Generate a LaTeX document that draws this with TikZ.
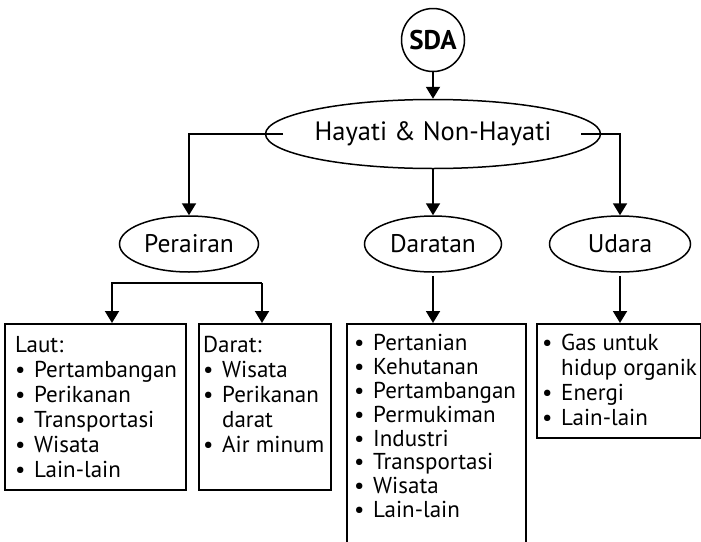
\documentclass[tikz,border=0pt]{standalone}
\usepackage{fontspec}
\setmainfont{PT Sans}
\usetikzlibrary{shapes.geometric,arrows.meta}
\newcommand{\bt}{\makebox[19pt][l]{\textbullet}}
\newcommand{\bind}{\makebox[19pt][l]{}}
\begin{document}
\begin{tikzpicture}[x=1pt,y=-1pt,
  arr/.style={-{Triangle[width=14pt,length=12pt]}, line width=1.9pt},
  ell/.style={draw, ellipse, line width=1.5pt, inner sep=0pt},
  lbl/.style={font=\fontsize{25.5}{30}\selectfont},
  boxn/.style={draw, rectangle, line width=1.6pt, anchor=north west, inner sep=0pt},
  txt/.style={anchor=north west, align=left, inner sep=0pt, font=\fontsize{23}{25}\selectfont}]
\useasboundingbox (0,0) rectangle (701,541);

% top nodes
\node[draw, circle, line width=1.5pt, minimum size=63pt, inner sep=0pt, font=\fontsize{27}{30}\selectfont\bfseries] (sda) at (433,40) {SDA};
\node[ell, minimum width=282pt, minimum height=69pt, font=\fontsize{26.5}{30}\selectfont] (hay) at (433,134) {Hayati \& Non-Hayati};

% second level
\node[ell, lbl, minimum width=139pt, minimum height=56pt] (per) at (189,244) {Perairan};
\node[ell, lbl, minimum width=137pt, minimum height=56pt] (dar) at (433,244) {Daratan};
\node[ell, lbl, minimum width=141pt, minimum height=56pt] (uda) at (620,244) {Udara};

% boxes
\node[boxn, minimum width=181pt, minimum height=166pt] (laut) at (4,323) {};
\node[boxn, minimum width=132pt, minimum height=166pt] (darat) at (198,323) {};
\node[boxn, minimum width=179pt, minimum height=225pt] (dbox) at (346,323) {};
\node[boxn, minimum width=164pt, minimum height=114pt] (ubox) at (536,323) {};

% box texts
\node[txt] (tlaut) at (15,336) {Laut:\\ \bt Pertambangan\\ \bt Perikanan\\ \bt Transportasi\\ \bt Wisata\\ \bt Lain-lain};
\node[txt] (tdarat) at (203,336) {Darat:\\ \bt Wisata\\ \bt Perikanan\\ \bind darat\\ \bt Air minum};
\node[txt, font=\fontsize{23}{23.9}\selectfont] (tdbox) at (354,334) {\bt Pertanian\\ \bt Kehutanan\\ \bt Pertambangan\\ \bt Permukiman\\ \bt Industri\\ \bt Transportasi\\ \bt Wisata\\ \bt Lain-lain};
\node[txt] (tubox) at (542,334) {\bt Gas untuk\\ \bind hidup organik\\ \bt Energi\\ \bt Lain-lain};

% connectors
\coordinate (hl) at (283,134);
\coordinate (hr) at (581,134);
\coordinate (bl) at (112,283);
\coordinate (br) at (262,283);

\draw[arr] (sda.south) -- (hay.north);
\draw[arr] (hl) -| (per.north);
\draw[arr] (hr) -| (uda.north);
\draw[arr] (hay.south) -- (dar.north);
\draw[arr] (br) -- (bl) -- (bl |- laut.north);
\draw[arr] (br) -- (br |- darat.north);
\draw[arr, shorten <=3pt] (dar.south) -- (dar.south |- dbox.north);
\draw[arr, shorten <=3pt] (uda.south) -- (uda.south |- ubox.north);
\end{tikzpicture}
\end{document}
